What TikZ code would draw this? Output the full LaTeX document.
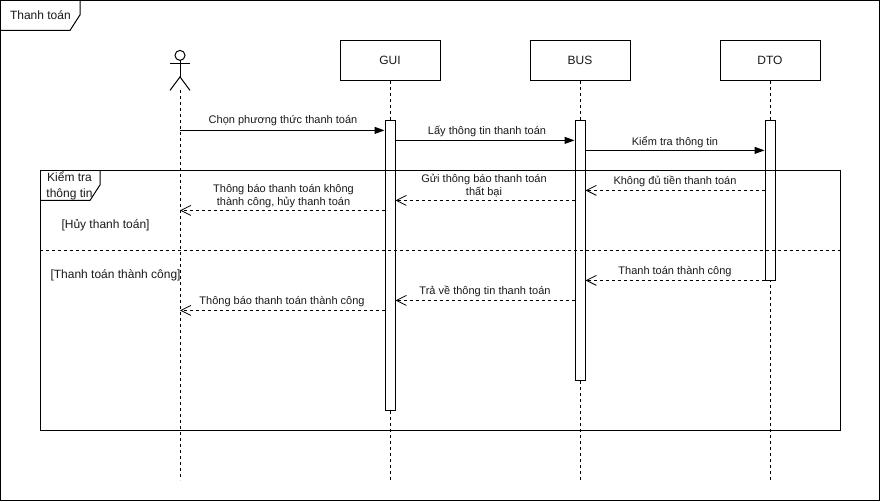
\documentclass[tikz,border=0pt]{standalone}
\usepackage{fontspec}
\setmainfont{Liberation Sans}
\usetikzlibrary{arrows.meta}
\tikzset{
  x=1pt,y=-1pt,
  every path/.style={line width=1pt},
  party/.style={draw,rectangle,minimum width=100pt,minimum height=40pt,inner sep=0pt,font=\fontsize{12}{14}\selectfont,text=black!90},
  bar/.style={draw,fill=white,rectangle,minimum width=10pt,inner sep=0pt},
  life/.style={dash pattern=on 3pt off 3pt},
  callmsg/.style={-{Triangle[length=10pt,width=7pt]}},
  retmsg/.style={dash pattern=on 3pt off 3pt,-{Straight Barb[length=10pt,width=10pt,line width=0.8pt]}},
  lbl/.style={font=\fontsize{11}{13}\selectfont,align=center,inner sep=0pt,text=black!90},
  framelbl/.style={font=\fontsize{12}{16}\selectfont,align=center,inner sep=0pt,text=black!90},
}
\begin{document}
\begin{tikzpicture}
\useasboundingbox (0.5,0.1) rectangle (881.5,502.1);
% outer frame
\node[draw,rectangle,minimum width=879pt,minimum height=500pt,inner sep=0pt,anchor=north west] (outer) at (0.5,0.5) {};
\draw (80.5,0.5) -- (80.5,15) -- (70.5,30.5) -- (0.5,30.5);
\node[framelbl,anchor=west] (outertitle) at (10,15.5) {Thanh toán};
% actor
\draw (180.5,55.5) circle (5pt);
\coordinate (actorneck) at (180.5,60.5);
\coordinate (actorhip) at (180.5,77);
\coordinate (actorfoot) at (180.5,90.5);
\draw (actorneck) -- (actorhip);
\draw (170.5,63.5) -- (190.5,63.5);
\draw (170.5,90.5) -- (actorhip) -- (190.5,90.5);
\coordinate (actorend) at (180.5,480.5);
% parties
\node[party] (gui) at (390.5,60.5) {GUI};
\node[party] (bus) at (580.5,60.5) {BUS};
\node[party] (dto) at (770.5,60.5) {DTO};
\coordinate (guiend) at (390.5,480.5);
\coordinate (busend) at (580.5,480.5);
\coordinate (dtoend) at (770.5,480.5);
\draw[life] (actorfoot) -- (actorend);
\draw[life] (gui) -- (guiend);
\draw[life] (bus) -- (busend);
\draw[life] (dto) -- (dtoend);
% activations
\node[bar,minimum height=290pt,anchor=north] (guibar) at (390.5,120.5) {};
\node[bar,minimum height=260pt,anchor=north] (busbar) at (580.5,120.5) {};
\node[bar,minimum height=160pt,anchor=north] (dtobar) at (770.5,120.5) {};
% alt fragment
\node[draw,rectangle,minimum width=800pt,minimum height=260pt,inner sep=0pt,anchor=north west] (alt) at (40.5,170.5) {};
\draw (100.5,170.5) -- (100.5,185) -- (90.5,200.5) -- (40.5,200.5);
\node[framelbl,anchor=north] (alttitle) at (70,171) {Kiểm tra\\thông tin};
\coordinate (sepL) at (40.5,250.5);
\coordinate (sepR) at (843,250.5);
\draw[life] (sepL) -- (sepR);
\node[framelbl,anchor=west] (g1) at (61.5,225.5) {[Hủy thanh toán]};
\node[framelbl,anchor=west] (g2) at (50.5,275) {[Thanh toán thành công]};
% message levels
\coordinate (y1) at (0,130.5);
\coordinate (y2) at (0,140.5);
\coordinate (y3) at (0,150.5);
\coordinate (y4) at (0,190.5);
\coordinate (y5) at (0,200.5);
\coordinate (y6) at (0,210.5);
\coordinate (y7) at (0,280.5);
\coordinate (y8) at (0,300.5);
\coordinate (y9) at (0,310.5);
% messages
\draw[callmsg] (actorfoot |- y1) -- (guibar.west |- y1);
\draw[callmsg] (guibar.east |- y2) -- (busbar.west |- y2);
\draw[callmsg] (busbar.east |- y3) -- (dtobar.west |- y3);
\draw[retmsg] (dtobar.west |- y4) -- (busbar.east |- y4);
\draw[retmsg] (busbar.west |- y5) -- (guibar.east |- y5);
\draw[retmsg] (guibar.west |- y6) -- (actorfoot |- y6);
\draw[retmsg] (dtobar.west |- y7) -- (busbar.east |- y7);
\draw[retmsg] (busbar.west |- y8) -- (guibar.east |- y8);
\draw[retmsg] (guibar.west |- y9) -- (actorfoot |- y9);
% labels
\node[lbl] (t1) at (283.5,121) {Chọn phương thức thanh toán};
\node[lbl] (t2) at (487.5,131.5) {Lấy thông tin thanh toán};
\node[lbl] (t3) at (675.5,142) {Kiểm tra thông tin};
\node[lbl] (t4) at (675.5,182) {Không đủ tiền thanh toán};
\node[lbl] (t5) at (484.5,186) {Gửi thông báo thanh toán\\thất bại};
\node[lbl] (t6) at (284,196) {Thông báo thanh toán không\\thành công, hủy thanh toán};
\node[lbl] (t7) at (675.5,272) {Thanh toán thành công};
\node[lbl] (t8) at (485.5,292) {Trả về thông tin thanh toán};
\node[lbl] (t9) at (282.5,302) {Thông báo thanh toán thành công};
\end{tikzpicture}
\end{document}
